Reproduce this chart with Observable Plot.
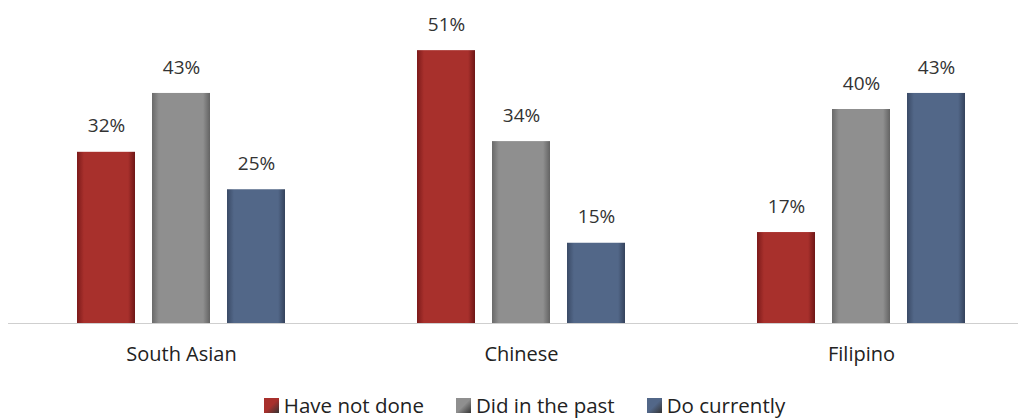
<!DOCTYPE html>
<html>
<head>
<meta charset="utf-8">
<script src="https://cdn.jsdelivr.net/npm/d3@7"></script>
<script src="https://cdn.jsdelivr.net/npm/@observablehq/plot@0.6"></script>
<style>
  body { margin: 0; background: #fff; font-family: "Open Sans", sans-serif; }
  #legend { display: flex; justify-content: center; gap: 32px; font-size: 20.5px; color: #222; margin-top: 7px; padding-left: 31px; line-height: 26px; }
  #legend span.item { display: flex; align-items: center; }
  #legend span.sw { width: 15px; height: 15px; margin-right: 5px; display: inline-block; }
</style>
</head>
<body>
<svg width="0" height="0" style="position:absolute">
  <defs>
    <linearGradient id="gRed" x1="0" x2="1" y1="0" y2="0">
      <stop offset="0" stop-color="#7c1a1a"/>
      <stop offset="0.12" stop-color="#a8302c"/>
      <stop offset="0.88" stop-color="#a8302c"/>
      <stop offset="1" stop-color="#6e1616"/>
    </linearGradient>
    <linearGradient id="gGray" x1="0" x2="1" y1="0" y2="0">
      <stop offset="0" stop-color="#6a6a6a"/>
      <stop offset="0.12" stop-color="#8f8f8f"/>
      <stop offset="0.88" stop-color="#8f8f8f"/>
      <stop offset="1" stop-color="#636363"/>
    </linearGradient>
    <linearGradient id="gBlue" x1="0" x2="1" y1="0" y2="0">
      <stop offset="0" stop-color="#3a4a66"/>
      <stop offset="0.12" stop-color="#526788"/>
      <stop offset="0.88" stop-color="#526788"/>
      <stop offset="1" stop-color="#34425c"/>
    </linearGradient>
  </defs>
</svg>
<div id="chart"></div>
<div id="legend"></div>
<script>
const groups = ["South Asian", "Chinese", "Filipino"];
const series = ["Have not done", "Did in the past", "Do currently"];
const haveNotDone = [32, 51, 17];
const didInPast = [43, 34, 40];
const doCurrently = [25, 15, 43];
const fills = ["url(#gRed)", "url(#gGray)", "url(#gBlue)"];
const swatch = ["#a8302c", "#8f8f8f", "#526788"];

const valuesBySeries = [haveNotDone, didInPast, doCurrently];
const data = [];
series.forEach((s, si) => groups.forEach((g, gi) => data.push({group: g, series: s, value: valuesBySeries[si][gi]})));

const marks = [];
series.forEach((s, si) => {
  marks.push(Plot.barY(data.filter(d => d.series === s), {
    fx: "group", x: "series", y: "value", fill: fills[si]
  }));
});
marks.push(Plot.ruleY([0], {stroke: "#cfcfcf", strokeWidth: 1, insetLeft: -3}));
marks.push(Plot.text(data, {
  fx: "group", x: "series", y: "value", text: d => d.value + "%",
  dy: -26, fontSize: 19, fill: "#333"
}));

const chart = Plot.plot({
  width: 1018,
  height: 385,
  marginLeft: 11,
  marginRight: 0,
  marginTop: 0,
  marginBottom: 62,
  style: {fontFamily: "Open Sans, sans-serif", background: "#fff"},
  fx: {domain: groups, range: [11, 1031], padding: 0, label: null, tickSize: 0, tickPadding: 23, fontSize: 20},
  x: {domain: series, paddingInner: 0.2267, paddingOuter: 0.88, axis: null},
  y: {domain: [0, 60], range: [323, 2], axis: null},
  marks
});
chart.querySelectorAll("g[aria-label='fx-axis tick label'] text, g[aria-label='fx-axis'] text").forEach(t => { t.setAttribute("font-size", 20); t.setAttribute("fill", "#222"); });
document.getElementById("chart").appendChild(chart);

const legend = document.getElementById("legend");
series.forEach((s, i) => {
  const item = document.createElement("span");
  item.className = "item";
  const sw = document.createElement("span");
  sw.className = "sw";
  sw.style.background = `linear-gradient(135deg, ${swatch[i]}, ${swatch[i]} 50%, #333)`;
  item.appendChild(sw);
  item.appendChild(document.createTextNode(s));
  legend.appendChild(item);
});
</script>
</body>
</html>
